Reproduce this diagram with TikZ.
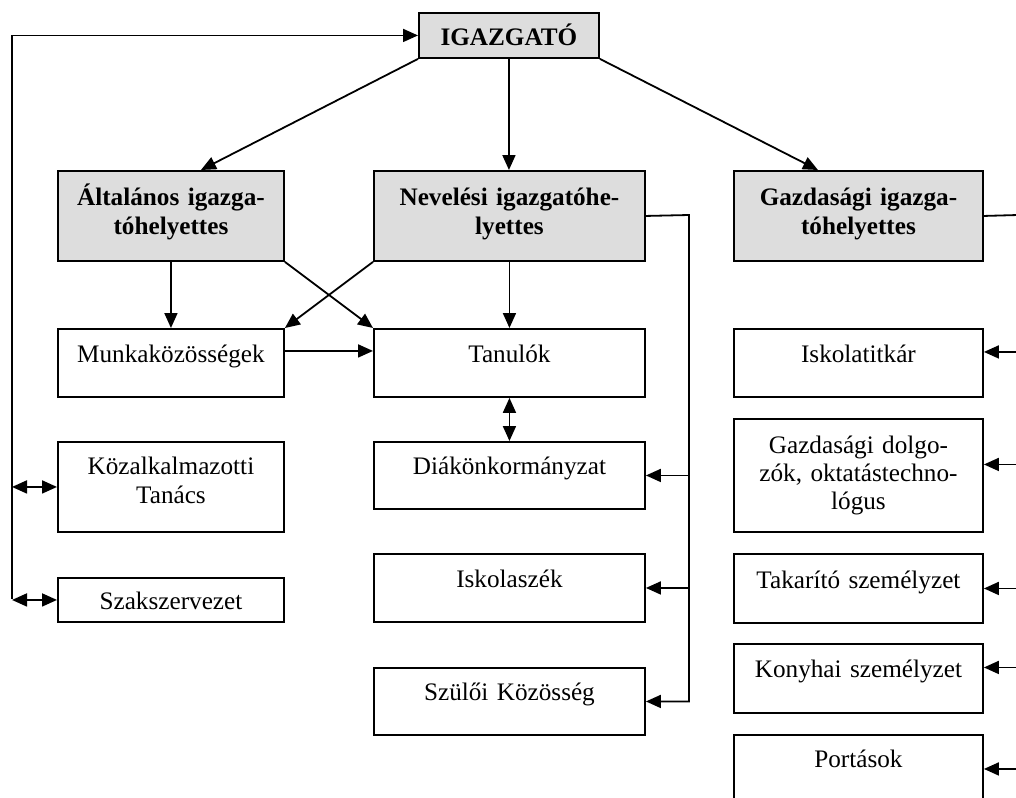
\documentclass[tikz,border=0pt]{standalone}
\usepackage{fontspec}
\setmainfont{Liberation Serif}
\usetikzlibrary{arrows.meta}
\definecolor{boxgray}{RGB}{221,221,221}
\begin{document}
\begin{tikzpicture}[x=1pt,y=-1pt,
  box/.style={draw, line width=1.9pt, inner sep=0pt, align=center, anchor=north west,
    font=\fontsize{25.2}{29}\selectfont},
  gbox/.style={box, fill=boxgray, font=\fontsize{25.2}{29}\selectfont\bfseries},
  conn/.style={line width=1.8pt},
  arr/.style={conn, -{Triangle[length=15pt,width=13pt]}},
  darr/.style={conn, {Triangle[length=15pt,width=13pt]}-{Triangle[length=15pt,width=13pt]}}]
\useasboundingbox (0,0) rectangle (1016,797);
\clip (0,0) rectangle (1016,797);
% top level
\node[gbox, text width=180pt, text height=33pt, text depth=12pt] (ig) at (418,12) {IGAZGATÓ};
\node[gbox, text width=226pt, text height=35pt, text depth=55pt] (alt) at (57,170) {Általános igazga-\\tóhelyettes};
\node[gbox, text width=271pt, text height=35pt, text depth=55pt] (nev) at (373,170) {Nevelési igazgatóhe-\\lyettes};
\node[gbox, text width=249pt, text height=35pt, text depth=55pt] (gaz) at (733,170) {Gazdasági igazga-\\tóhelyettes};
% left column
\node[box, text width=226pt, text height=34pt, text depth=34pt] (munka) at (57,328) {Munkaközösségek};
\node[box, text width=226pt, text height=33pt, text depth=57pt] (kozalk) at (57,441) {Közalkalmazotti\\Tanács};
\node[box, text width=226pt, text height=32pt, text depth=12pt] (szak) at (57,577) {Szakszervezet};
% middle column
\node[box, text width=271pt, text height=34pt, text depth=34pt] (tan) at (373,328) {Tanulók};
\node[box, text width=271pt, text height=33pt, text depth=34pt] (diak) at (373,441) {Diákönkormányzat};
\node[box, text width=271pt, text height=34pt, text depth=34pt] (isz) at (373,553) {Iskolaszék};
\node[box, text width=271pt, text height=33pt, text depth=34pt] (szul) at (373,667) {Szülői Közösség};
% right column
\node[box, text width=249pt, text height=34pt, text depth=34pt] (titk) at (733,328) {Iskolatitkár};
\node[box, text width=249pt, text height=35pt, text depth=78pt, font=\fontsize{25.2}{28}\selectfont] (gdolg) at (733,418) {Gazdasági dolgo-\\zók, oktatástechno-\\lógus};
\node[box, text width=249pt, text height=35pt, text depth=34pt] (tak) at (733,553) {Takarító személyzet};
\node[box, text width=249pt, text height=34pt, text depth=35pt] (kony) at (733,643) {Konyhai személyzet};
\node[box, text width=249pt, text height=33pt, text depth=35pt] (port) at (733,734) {Portások};
% coordinates
\coordinate (lb) at (12,599);
\coordinate (nr) at (689,215);
\coordinate (gr) at (1018,215);
% left loop
\draw[arr] (lb) |- (ig.west);
\draw[darr] (kozalk.west -| lb) -- (kozalk.west);
\draw[darr] (szak.west -| lb) -- (szak.west);
% from director
\draw[arr] (ig.south west) -- ([xshift=30pt]alt.north);
\draw[arr] (ig.south) -- (ig.south |- nev.north);
\draw[arr] (ig.south east) -- ([xshift=-40.5pt]gaz.north);
% deputies
\draw[arr] (alt.south) -- (munka.north);
\draw[arr] (alt.south east) -- (tan.north west);
\draw[arr] (nev.south west) -- (munka.north east);
\draw[arr] (nev.south) -- (tan.north);
\draw[arr] ([yshift=12pt]munka.east) -- ([yshift=12pt]munka.east -| tan.west);
\draw[darr] (tan.south) -- (diak.north);
% Neveles right branch
\draw[arr] (nev.east) -- (nr) |- (szul.east);
\draw[arr] (diak.east -| nr) -- (diak.east);
\draw[arr] (isz.east -| nr) -- (isz.east);
% Gazdasagi right branch
\draw[arr] (gaz.east) -- (gr) |- (port.east);
\draw[arr] ([yshift=11pt]titk.east -| gr) -- ([yshift=11pt]titk.east);
\draw[arr] ([yshift=11pt]gdolg.east -| gr) -- ([yshift=11pt]gdolg.east);
\draw[arr] (tak.east -| gr) -- (tak.east);
\draw[arr] ([yshift=11pt]kony.east -| gr) -- ([yshift=11pt]kony.east);
\end{tikzpicture}
\end{document}
